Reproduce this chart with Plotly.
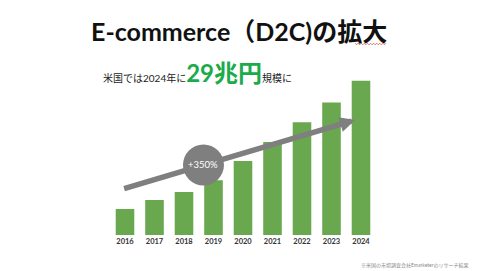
import plotly.graph_objects as go

# US e-commerce (D2C) market size, trillion yen
years = ["2016", "2017", "2018", "2019", "2020", "2021", "2022", "2023", "2024"]
market = [4.9, 6.6, 8.1, 10.3, 13.9, 17.5, 21.2, 24.9, 29.0]

title_text = "E-commerce（D2C)の拡大"
growth_label = "+350%"
source_note = "※米国の市場調査会社Emarketerのリサーチ結果"

W, H = 480, 271
BAR = "#6aa84f"
ARROW = "#7f7f7f"
FONT = "Lato, 'Noto Sans CJK JP', sans-serif"

x = list(range(len(years)))

fig = go.Figure(go.Bar(
    x=x, y=market,
    marker=dict(color=BAR, line=dict(width=0)),
    width=0.63,
    hoverinfo="skip",
))

shapes = []
annotations = []

# growth arrow from the first bar region up to the last
annotations.append(dict(
    x=7.8, y=21.6, xref="x", yref="y",
    ax=-0.08, ay=8.65, axref="x", ayref="y",
    showarrow=True, arrowhead=2, arrowsize=0.55, arrowwidth=5.5,
    arrowcolor=ARROW, text="",
))

# circle badge with growth rate
cx, cy = 2.66, 13.16
shapes.append(dict(
    type="circle", xref="x", yref="y", xsizemode="pixel", ysizemode="pixel",
    xanchor=cx, yanchor=cy, x0=-20.5, x1=20.5, y0=-20.5, y1=20.5,
    fillcolor=ARROW, line=dict(width=0), layer="above",
))
annotations.append(dict(
    x=cx, y=cy, xref="x", yref="y", text=growth_label, showarrow=False,
    font=dict(family=FONT, size=9.5, color="white"),
))

# title
annotations.append(dict(
    x=239 / W, y=1 - 31 / H, xref="paper", yref="paper", text="<b>" + title_text + "</b>",
    showarrow=False, xanchor="center", yanchor="middle",
    font=dict(family=FONT, size=25, color="#111111"),
))

# red squiggle under the last two characters of the title
pts = []
x0p, x1p, yb = 355, 386, 44
n = 20
for i in range(n + 1):
    px = x0p + (x1p - x0p) * i / n
    py = yb + (0.8 if i % 2 else -0.8)
    pts.append(f"{px / W:.5f},{1 - py / H:.5f}")
shapes.append(dict(
    type="path", xref="paper", yref="paper",
    path="M" + "L".join(pts), line=dict(color="#e05050", width=0.8),
))

# headline
annotations.append(dict(
    x=101 / W, y=1 - 89 / H, xref="paper", yref="paper",
    text=("米国では2024年に"
          "<span style='font-size:24px;color:#1aab4a'><b>29兆円</b></span>"
          "規模に"),
    showarrow=False, xanchor="left", yanchor="bottom",
    font=dict(family=FONT, size=10, color="#222222"),
))

# source note
annotations.append(dict(
    x=471 / W, y=1 - 265 / H, xref="paper", yref="paper", text=source_note,
    showarrow=False, xanchor="right", yanchor="middle",
    font=dict(family=FONT, size=5, color="#888888"),
))

fig.update_layout(
    width=W, height=H,
    margin=dict(l=0, r=0, t=0, b=0),
    paper_bgcolor="white", plot_bgcolor="white",
    showlegend=False,
    shapes=shapes, annotations=annotations,
    xaxis=dict(
        domain=[110.25 / W, (110.25 + 265.5) / W],
        range=[-0.5, 8.5], tickmode="array", tickvals=x,
        ticktext=["<b>" + y + "</b>" for y in years],
        showgrid=False, zeroline=False, showline=False, ticks="",
        tickfont=dict(family=FONT, size=7.5, color="#333333"),
    ),
    yaxis=dict(
        domain=[(H - 235) / H, (H - 75.4) / H],
        range=[0, 30], visible=False,
    ),
)

fig.write_html("out.html")
